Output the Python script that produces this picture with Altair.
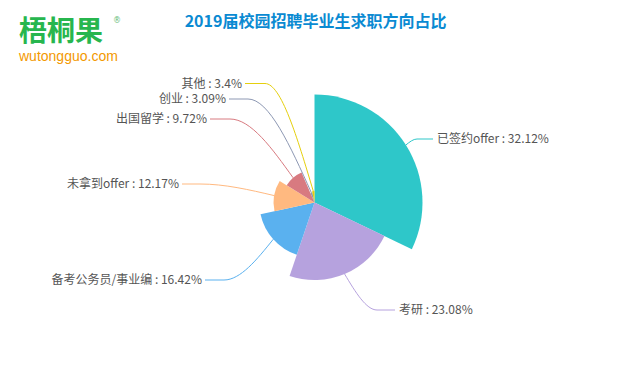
import math
import altair as alt
import pandas as pd

# ---------------- data ----------------
categories = ["已签约offer", "考研", "备考公务员/事业编", "未拿到offer", "出国留学", "创业", "其他"]
shares = [32.12, 23.08, 16.42, 12.17, 9.72, 3.09, 3.4]
share_text = ["32.12%", "23.08%", "16.42%", "12.17%", "9.72%", "3.09%", "3.4%"]
colors = ["#2ec7c9", "#b6a2de", "#5ab1ef", "#ffb980", "#d87a80", "#8d98b3", "#e5cf0d"]
title_text = "2019届校园招聘毕业生求职方向占比"
logo_text = "梧桐果"
logo_url = "wutongguo.com"

# ---------------- layout (page pixels) ----------------
M = 8                      # page margin
W, H = 612, 362
CX, CY = 314.5, 202.5      # pie centre
MAX_R = 108                # outer radius of the largest slice
label_y = [139, 310, 280, 184, 119, 99, 83.5]
elbow_x = [417, 377, 224, 200, 230, 248, 265]
end_x = [433, 395, 205, 182, 210, 229, 245]
FONT = "Noto Sans CJK SC"

df = pd.DataFrame({"cat": categories, "share": shares, "idx": range(len(categories))})
df["label"] = [f"{c} : {t}" for c, t in zip(categories, share_text)]

# label lines: start on slice edge (from data), elbow, end
total = sum(shares)
vmax = max(shares)
rows, lab_rows = [], []
cum = 0.0
for i, (c, v) in enumerate(zip(categories, shares)):
    mid = (cum + v / 2) / total * 2 * math.pi
    cum += v
    r = MAX_R * v / vmax
    sx, sy = CX + r * math.sin(mid), CY - r * math.cos(mid)
    pts = [(sx, sy), (elbow_x[i], label_y[i]), (end_x[i], label_y[i])]
    for k, (px, py) in enumerate(pts):
        rows.append({"cat": c, "k": k, "px": px - M, "py": py - M})
    right = end_x[i] > CX
    lab_rows.append({"cat": c, "label": df.label[i], "side": "R" if right else "L",
                     "px": end_x[i] + (4 if right else -3) - M, "py": label_y[i] - M})
lines_df = pd.DataFrame(rows)
labels_df = pd.DataFrame(lab_rows)

color_scale = alt.Scale(domain=categories, range=colors)
xs = alt.Scale(domain=[0, W], range=[0, W], nice=False, zero=False)
ys = alt.Scale(domain=[0, H], range=[0, H], nice=False, zero=False)

arcs = alt.Chart(df).mark_arc(strokeWidth=0).encode(
    theta=alt.Theta("share:Q", stack=True),
    radius=alt.Radius("share:Q", scale=alt.Scale(type="linear", zero=True, range=[0, MAX_R])),
    color=alt.Color("cat:N", scale=color_scale, legend=None),
    order=alt.Order("idx:Q"),
    x=alt.value(CX - M),
    y=alt.value(CY - M),
)

lines = alt.Chart(lines_df).mark_line(strokeWidth=1, interpolate="monotone").encode(
    x=alt.X("px:Q", scale=xs, axis=None),
    y=alt.Y("py:Q", scale=ys, axis=None),
    color=alt.Color("cat:N", scale=color_scale, legend=None),
    detail="cat:N",
    order="k:Q",
)

text_r = alt.Chart(labels_df).transform_filter(alt.datum.side == "R").mark_text(
    align="left", baseline="middle", fontSize=12, font=FONT, color="#555555"
).encode(x=alt.X("px:Q", scale=xs, axis=None), y=alt.Y("py:Q", scale=ys, axis=None), text="label:N")

text_l = alt.Chart(labels_df).transform_filter(alt.datum.side == "L").mark_text(
    align="right", baseline="middle", fontSize=12, font=FONT, color="#555555"
).encode(x=alt.X("px:Q", scale=xs, axis=None), y=alt.Y("py:Q", scale=ys, axis=None), text="label:N")

txt = pd.DataFrame({"t": [title_text]})
title = alt.Chart(txt).mark_text(
    align="center", baseline="middle", fontSize=16, fontWeight="bold", font=FONT, color="#0a8ad2"
).encode(text="t:N", x=alt.value(315.5 - M), y=alt.value(21.5 - M))

logo = alt.Chart(pd.DataFrame({"t": [logo_text]})).mark_text(
    align="left", baseline="middle", fontSize=28, fontWeight="bold", font=FONT, color="#27b64e"
).encode(text="t:N", x=alt.value(19 - M), y=alt.value(33 - M))

reg = alt.Chart(pd.DataFrame({"t": ["®"]})).mark_text(
    align="left", baseline="middle", fontSize=8, font="DejaVu Sans", color="#66bb77"
).encode(text="t:N", x=alt.value(113 - M), y=alt.value(21 - M))

url = alt.Chart(pd.DataFrame({"t": [logo_url]})).mark_text(
    align="left", baseline="middle", fontSize=14, font="Liberation Sans", color="#f39800"
).encode(text="t:N", x=alt.value(19 - M), y=alt.value(57 - M))

chart = alt.layer(arcs, lines, text_r, text_l, title, logo, reg, url).properties(
    width=W, height=H, padding=0, background="white",
    autosize=alt.AutoSizeParams(type="none"),
).configure_view(stroke=None)

chart.save("out.html", embed_options={"renderer": "svg", "actions": False})
